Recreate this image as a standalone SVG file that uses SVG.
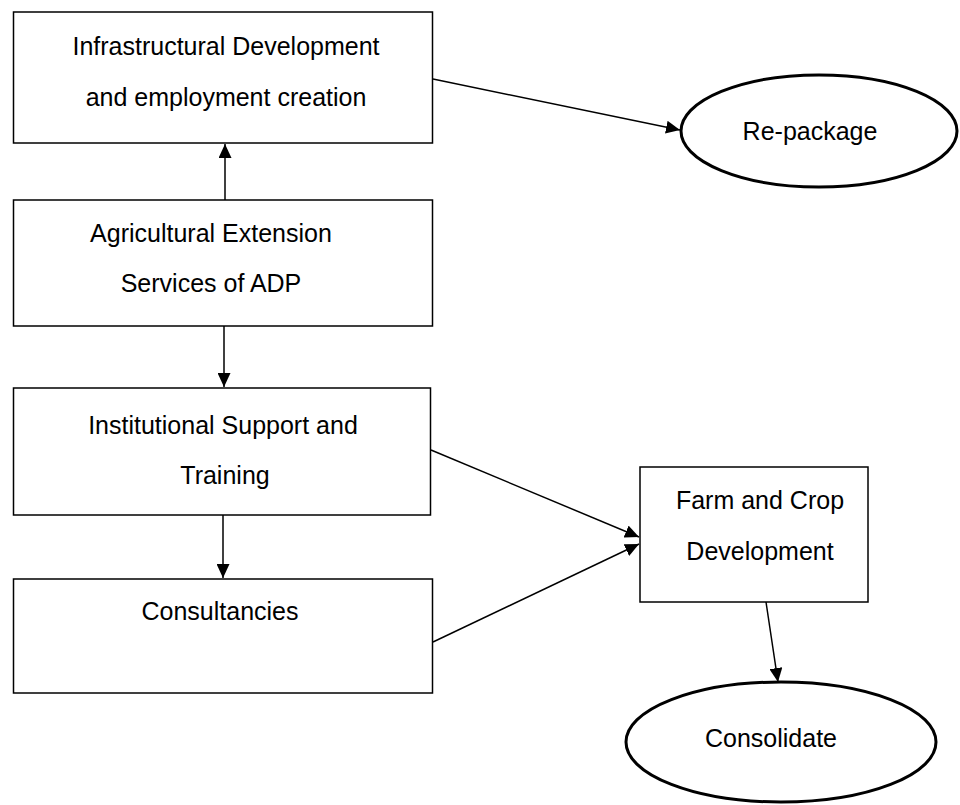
<svg xmlns="http://www.w3.org/2000/svg" width="960" height="805" viewBox="0 0 960 805">
<defs>
<style>
.box{fill:#fff;stroke:#000;stroke-width:1.5}
.ell{fill:#fff;stroke:#000;stroke-width:3}
.t{font-family:"Liberation Sans",Arial,sans-serif;font-size:25px;fill:#000;text-anchor:middle}
.c{stroke:#000;stroke-width:1.5;fill:none;marker-end:url(#ah)}
</style>
<marker id="ah" markerWidth="14" markerHeight="13" refX="14" refY="6.5" orient="auto" markerUnits="userSpaceOnUse" viewBox="0 0 14 13">
<path d="M0,0 L14,6.5 L0,13 z" fill="#000"/>
</marker>
</defs>
<rect width="960" height="805" fill="#fff"/>
<g id="n-infra">
<rect class="box" x="13.5" y="12" width="419" height="131"/>
<text class="t" x="226" y="55">Infrastructural Development</text>
<text class="t" x="226" y="106">and employment creation</text>
</g>
<g id="n-agric">
<rect class="box" x="13.5" y="200" width="419" height="126"/>
<text class="t" x="211" y="242">Agricultural Extension</text>
<text class="t" x="211" y="292">Services of ADP</text>
</g>
<g id="n-inst">
<rect class="box" x="13.5" y="388" width="417" height="127"/>
<text class="t" x="223" y="434">Institutional Support and</text>
<text class="t" x="225" y="484">Training</text>
</g>
<g id="n-cons">
<rect class="box" x="13.5" y="579" width="419" height="114"/>
<text class="t" x="220" y="620">Consultancies</text>
</g>
<g id="n-farm">
<rect class="box" x="640" y="467" width="228" height="135"/>
<text class="t" x="760" y="509">Farm and Crop</text>
<text class="t" x="760" y="560">Development</text>
</g>
<g id="n-repack">
<ellipse class="ell" cx="819" cy="131" rx="138" ry="56"/>
<text class="t" x="810" y="140">Re-package</text>
</g>
<g id="n-consol">
<ellipse class="ell" cx="781" cy="742" rx="155" ry="60"/>
<text class="t" x="771" y="747">Consolidate</text>
</g>
<g id="connectors">
<path class="c" d="M225,200 L225,144"/>
<path class="c" d="M224,326 L224,387"/>
<path class="c" d="M223,515 L223,578"/>
<path class="c" d="M433,79 L680,130"/>
<path class="c" d="M431,450 L639,537"/>
<path class="c" d="M433,642 L639,544"/>
<path class="c" d="M766,602 L778,682"/>
</g>
</svg>
